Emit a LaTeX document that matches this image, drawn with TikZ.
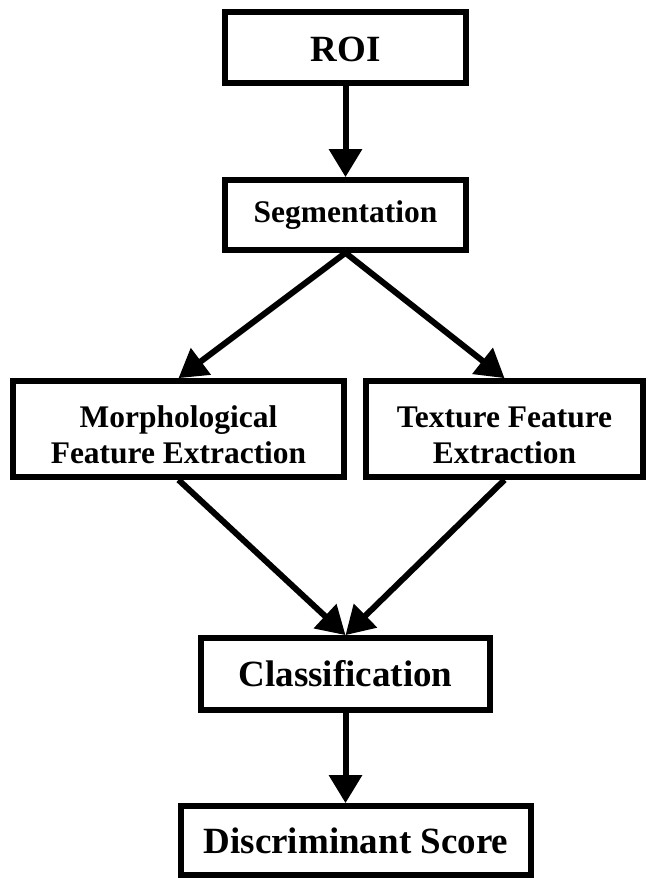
\documentclass[tikz,border=0pt]{standalone}
\usepackage{fontspec}
\setmainfont{Liberation Serif}
\usetikzlibrary{arrows.meta}
\begin{document}
\begin{tikzpicture}[x=0.75pt,y=-0.75pt,
  box/.style={draw=black, line width=4.3pt, fill=white, inner sep=0pt, align=center},
  bigtxt/.style={font=\bfseries\fontsize{27.75pt}{32pt}\selectfont},
  smalltxt/.style={font=\bfseries\fontsize{23.6pt}{27pt}\selectfont},
  flow/.style={line width=4.5pt, -{Triangle[length=21pt,width=24pt]}}
]
\useasboundingbox (0,0) rectangle (647,878);
\node[box,bigtxt,minimum width=180.75pt,minimum height=53.25pt,text height=21pt] (roi) at (345.5,47.5) {ROI};
\node[box,smalltxt,minimum width=180.75pt,minimum height=52.5pt] (seg) at (345.5,215) {Segmentation};
\node[box,smalltxt,minimum width=248.25pt,minimum height=72pt] (morph) at (178.5,429) {\rule{0pt}{25pt}Morphological\\Feature Extraction};
\node[box,smalltxt,minimum width=207.75pt,minimum height=72pt] (tex) at (504.5,429) {\rule{0pt}{25pt}Texture Feature\\Extraction};
\node[box,bigtxt,minimum width=216.75pt,minimum height=54pt] (cls) at (345.5,674) {Classification};
\node[box,bigtxt,minimum width=262.5pt,minimum height=51.75pt] (disc) at (356,840.5) {Discriminant Score};
\draw[flow] (roi.south) -- (seg.north);
\draw[flow] (seg.south) -- (morph.north);
\draw[flow] (seg.south) -- (tex.north);
\draw[flow] (morph.south) -- (cls.north);
\draw[flow] (tex.south) -- (cls.north);
\draw[flow] (cls.south) -- (cls.south |- disc.north);
\end{tikzpicture}
\end{document}
